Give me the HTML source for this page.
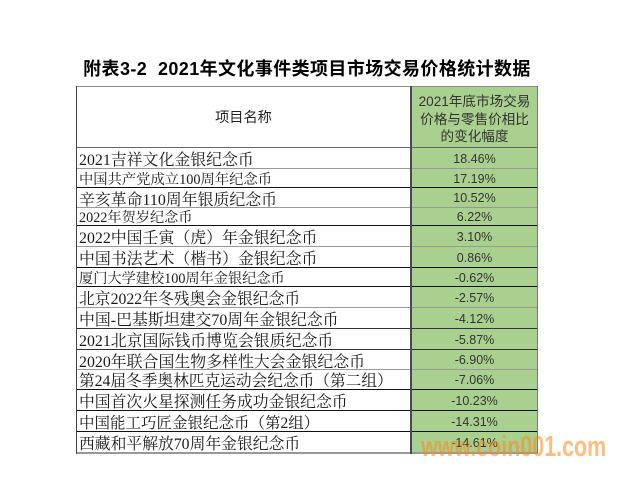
<!DOCTYPE html>
<html><head><meta charset="utf-8"><style>
html,body{margin:0;padding:0;background:#fff;}
body{width:620px;height:480px;position:relative;overflow:hidden;}
.a{position:absolute;}
.title{left:76px;width:462px;top:55px;height:22px;line-height:22px;text-align:center;font:bold 18px "Liberation Sans","Noto Sans CJK SC",sans-serif;letter-spacing:0.4px;color:#000;white-space:nowrap;}
.green{background:#a9d08e;}
.lt{left:79px;width:331px;white-space:nowrap;overflow:hidden;font-family:"Liberation Serif","Noto Serif CJK SC",serif;color:#1a1a1a;display:flex;align-items:center;}
.rt{left:411px;width:127px;text-align:center;font:12.5px "Liberation Sans",sans-serif;color:#333;display:flex;align-items:center;justify-content:center;}
.h{height:1px;left:76px;width:462px;}
.hdr{left:411px;width:127px;top:93px;text-align:center;font:13.6px/17.5px "Liberation Sans","Noto Sans CJK SC",sans-serif;color:#333;}
.wm{left:421px;top:432px;font:bold 29px/30px "Liberation Sans",sans-serif;color:rgba(255,135,30,0.55);transform-origin:0 0;transform:scaleX(0.74);white-space:nowrap;}
</style></head><body>
<div class="a title">附表3-2&nbsp;&nbsp;2021年文化事件类项目市场交易价格统计数据</div>

<div class="a green" style="left:411px;top:86px;width:127px;height:367px;"></div>

<div class="a" style="left:76px;width:335px;top:86px;height:62px;display:flex;align-items:center;justify-content:center;font:14.2px 'Noto Sans CJK SC',sans-serif;color:#222;">项目名称</div>
<div class="a hdr">2021年底市场交易<br>价格与零售价相比<br>的变化幅度</div>

<div class="a lt" style="top:148px;height:21px;font-size:15.9px;">2021吉祥文化金银纪念币</div>
<div class="a rt" style="top:148px;height:21px;">18.46%</div>
<div class="a lt" style="top:169px;height:19px;font-size:14.3px;">中国共产党成立100周年纪念币</div>
<div class="a rt" style="top:169px;height:19px;">17.19%</div>
<div class="a lt" style="top:188px;height:20px;font-size:15.9px;">辛亥革命110周年银质纪念币</div>
<div class="a rt" style="top:188px;height:20px;">10.52%</div>
<div class="a lt" style="top:208px;height:18px;font-size:14.2px;">2022年贺岁纪念币</div>
<div class="a rt" style="top:208px;height:18px;">6.22%</div>
<div class="a lt" style="top:226px;height:21px;font-size:15.9px;">2022中国壬寅（虎）年金银纪念币</div>
<div class="a rt" style="top:226px;height:21px;">3.10%</div>
<div class="a lt" style="top:247px;height:21px;font-size:15.9px;">中国书法艺术（楷书）金银纪念币</div>
<div class="a rt" style="top:247px;height:21px;">0.86%</div>
<div class="a lt" style="top:268px;height:19px;font-size:14.2px;">厦门大学建校100周年金银纪念币</div>
<div class="a rt" style="top:268px;height:19px;">-0.62%</div>
<div class="a lt" style="top:287px;height:21px;font-size:15.8px;">北京2022年冬残奥会金银纪念币</div>
<div class="a rt" style="top:287px;height:21px;">-2.57%</div>
<div class="a lt" style="top:308px;height:21px;font-size:15.9px;">中国-巴基斯坦建交70周年金银纪念币</div>
<div class="a rt" style="top:308px;height:21px;">-4.12%</div>
<div class="a lt" style="top:329px;height:21px;font-size:15.9px;">2021北京国际钱币博览会银质纪念币</div>
<div class="a rt" style="top:329px;height:21px;">-5.87%</div>
<div class="a lt" style="top:350px;height:20px;font-size:15.9px;">2020年联合国生物多样性大会金银纪念币</div>
<div class="a rt" style="top:350px;height:20px;">-6.90%</div>
<div class="a lt" style="top:370px;height:20px;font-size:15.7px;">第24届冬季奥林匹克运动会纪念币（第二组）</div>
<div class="a rt" style="top:370px;height:20px;">-7.06%</div>
<div class="a lt" style="top:390px;height:21px;font-size:15.8px;">中国首次火星探测任务成功金银纪念币</div>
<div class="a rt" style="top:390px;height:21px;">-10.23%</div>
<div class="a lt" style="top:411px;height:21px;font-size:15.5px;">中国能工巧匠金银纪念币（第2组）</div>
<div class="a rt" style="top:411px;height:21px;">-14.31%</div>
<div class="a lt" style="top:432px;height:21px;font-size:15.8px;">西藏和平解放70周年金银纪念币</div>
<div class="a rt" style="top:432px;height:21px;">-14.61%</div>

<div class="a h" style="top:86px;background:#8a8a8a;"></div>
<div class="a h" style="top:147px;background:#666;"></div>
<div class="a h" style="top:168px;background:#999;"></div>
<div class="a h" style="top:187px;background:#111;"></div>
<div class="a h" style="top:207px;background:#999;"></div>
<div class="a h" style="top:225px;background:#111;"></div>
<div class="a h" style="top:246px;background:#999;"></div>
<div class="a h" style="top:267px;background:#111;"></div>
<div class="a h" style="top:286px;background:#111;"></div>
<div class="a h" style="top:307px;background:#999;"></div>
<div class="a h" style="top:328px;background:#333;"></div>
<div class="a h" style="top:349px;background:#333;"></div>
<div class="a h" style="top:369px;background:#999;"></div>
<div class="a h" style="top:389px;background:#111;"></div>
<div class="a h" style="top:410px;background:#111;"></div>
<div class="a h" style="top:431px;background:#111;"></div>
<div class="a h" style="top:452px;height:2px;background:#999;"></div>

<div class="a" style="left:76px;top:86px;width:1px;height:368px;background:#444;"></div>
<div class="a" style="left:410px;top:86px;width:2px;height:368px;background:#4a4a4a;"></div>
<div class="a" style="left:537px;top:86px;width:1px;height:368px;background:#777;"></div>

<div class="a wm">www.coin001.com</div>
</body></html>
